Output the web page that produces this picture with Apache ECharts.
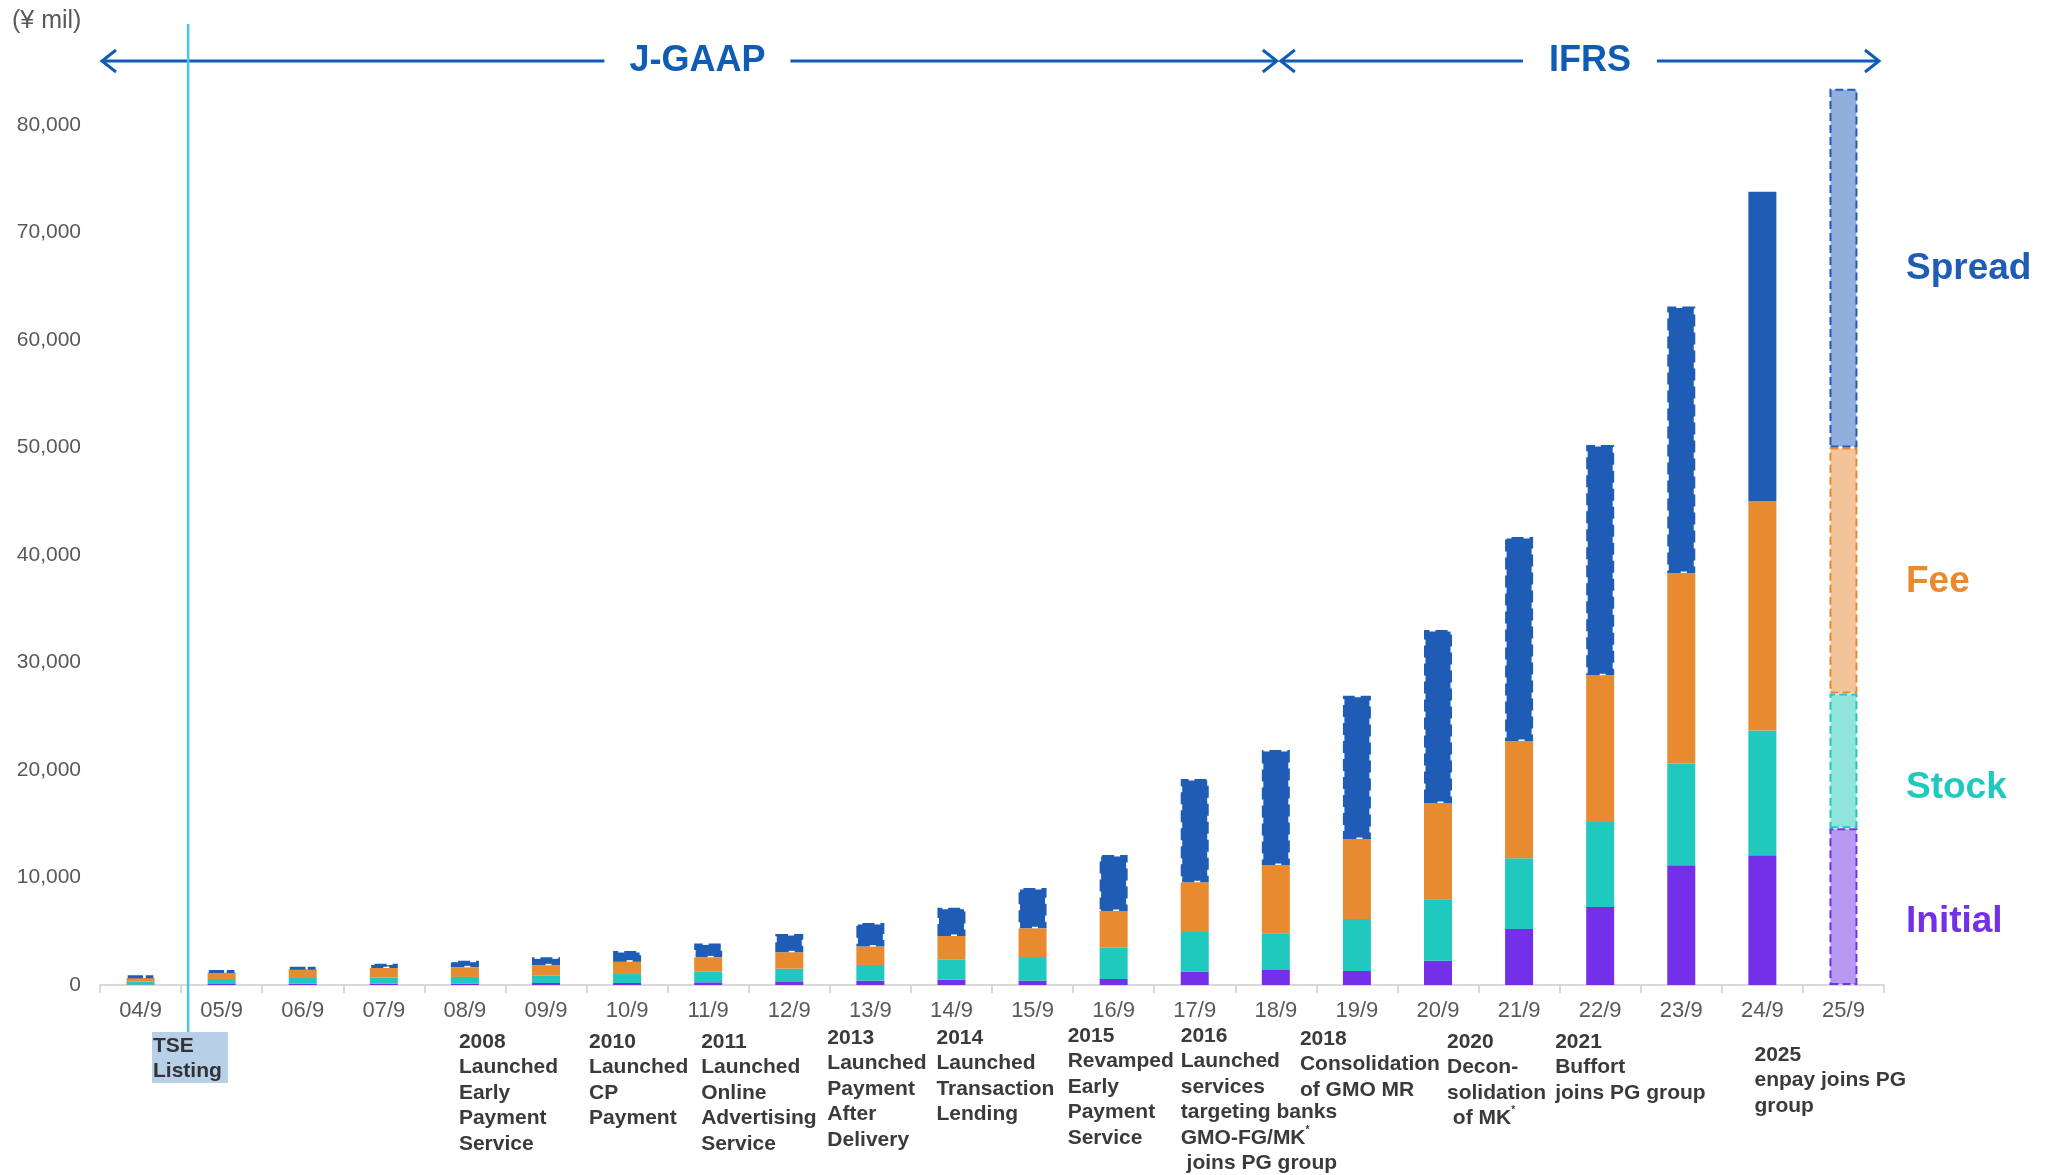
<!DOCTYPE html>
<html>
<head>
<meta charset="utf-8">
<script src="https://cdn.jsdelivr.net/npm/echarts@6/dist/echarts.min.js"></script>
<style>
  html, body { margin: 0; padding: 0; background: #fff; }
  #chart { width: 2058px; height: 1175px; }
</style>
</head>
<body>
<div id="chart"></div>
<script>
const categories = ['04/9', '05/9', '06/9', '07/9', '08/9', '09/9', '10/9', '11/9', '12/9', '13/9', '14/9',
  '15/9', '16/9', '17/9', '18/9', '19/9', '20/9', '21/9', '22/9', '23/9', '24/9', '25/9'];
const initial = [40, 150, 130, 120, 120, 190, 190, 250, 340, 400, 500, 400, 560, 1240, 1400, 1300, 2260, 5210, 7250, 11130, 12070, 14590];
const stock = [270, 410, 520, 590, 630, 710, 830, 990, 1180, 1460, 1890, 2200, 2910, 3690, 3410, 4840, 5710, 6570, 7910, 9470, 11600, 12530];
const fee = [340, 590, 810, 870, 890, 930, 1150, 1330, 1520, 1710, 2170, 2670, 3410, 4620, 6350, 7440, 8960, 10920, 13650, 17730, 21350, 22870];
const spread = [220, 220, 200, 400, 620, 740, 990, 1300, 1700, 2200, 2630, 3750, 5210, 9610, 10700, 13330, 16090, 18970, 21420, 24790, 28770, 33380];
const yMax = 90000;
const yStep = 10000;

const events = [
  { cat: '08/9', text: '2008\nLaunched\nEarly\nPayment\nService' },
  { cat: '10/9', text: '2010\nLaunched\nCP\nPayment' },
  { cat: '11/9', text: '2011\nLaunched\nOnline\nAdvertising\nService' },
  { cat: '13/9', text: '2013\nLaunched\nPayment\nAfter\nDelivery' },
  { cat: '14/9', text: '2014\nLaunched\nTransaction\nLending' },
  { cat: '16/9', text: '2015\nRevamped\nEarly\nPayment\nService' },
  { cat: '17/9', text: '2016\nLaunched\nservices\ntargeting banks\nGMO-FG/MK{s|*}\n joins PG group' },
  { cat: '19/9', text: '2018\nConsolidation\nof GMO MR' },
  { cat: '20/9', text: '2020\nDecon-\nsolidation\n of MK{s|*}' },
  { cat: '22/9', text: '2021\nBuffort\njoins PG group' },
  { cat: '25/9', text: '2025\nenpay joins PG\ngroup' }
];
// layout of the event notes: offset from the category centre, and top
const eventDx = [-6, -38, -7, -43, -15, -46, -14, -57, 9, -45, -89];
const eventTop = [1029, 1029, 1029, 1025, 1025, 1023, 1023, 1026, 1029, 1029, 1042];

const FONT = "'Liberation Sans', Arial, sans-serif";
const colors = { initial: '#7430E9', stock: '#1FC9BD', fee: '#E88A30', spread: '#1F5CB6' };
const light = { initial: '#B899F2', stock: '#8FE4DC', fee: '#F3C49A', spread: '#92AEDC' };
const last = categories.length - 1;

function makeData(values, key, dashedBefore) {
  return values.map((v, i) => {
    if (i === last) {
      return { value: v, itemStyle: { color: light[key], borderColor: colors[key], borderWidth: 2, borderType: 'dashed' } };
    }
    if (i < dashedBefore) {
      return { value: v, itemStyle: { borderColor: colors[key], borderWidth: 3, borderType: 'dashed' } };
    }
    return v;
  });
}

function barSeries(name, values, key, dashedBefore) {
  return {
    name: name,
    type: 'bar',
    stack: 'total',
    barWidth: 28,
    data: makeData(values, key, dashedBefore),
    itemStyle: { color: colors[key] },
    emphasis: { disabled: true }
  };
}

const chart = echarts.init(document.getElementById('chart'));
chart.setOption({
  backgroundColor: '#fff',
  animation: false,
  textStyle: { fontFamily: FONT },
  grid: { left: 100, right: 174, top: 985 - 9 * 107.5, bottom: 190, containLabel: false, outerBoundsMode: 'none' },
  xAxis: {
    type: 'category',
    data: categories,
    axisLine: { lineStyle: { color: '#D9D9D9', width: 2 } },
    axisTick: { show: true, length: 8, lineStyle: { color: '#D9D9D9', width: 2 } },
    axisLabel: { color: '#595959', fontSize: 22, margin: 15, fontFamily: FONT }
  },
  yAxis: {
    type: 'value',
    min: 0,
    max: yMax,
    interval: yStep,
    splitLine: { show: false },
    axisLine: { show: false },
    axisTick: { show: false },
    axisLabel: {
      color: '#595959', fontSize: 21, margin: 19, fontFamily: FONT,
      formatter: v => (v >= yMax ? '' : v.toLocaleString('en-US'))
    }
  },
  series: [
    barSeries('Initial', initial, 'initial', 0),
    barSeries('Stock', stock, 'stock', 0),
    barSeries('Fee', fee, 'fee', 0),
    barSeries('Spread', spread, 'spread', 20)
  ]
});

// annotations placed from the axis scale
const cx = cat => chart.convertToPixel({ xAxisIndex: 0 }, cat);
const band = cx(categories[1]) - cx(categories[0]);
const axStart = cx(categories[0]) - band / 2;
const axEnd = cx(categories[last]) + band / 2;
const split = cx('18/9') + 3;
const arrowL = axStart + 2;
const arrowR = axEnd - 5;
const arrowY = 61;
const arrowColor = '#0E5CB4';
const lineStyle = { stroke: arrowColor, lineWidth: 3, fill: null };

function chevron(tipX, dir) {
  return { type: 'polyline', shape: { points: [[tipX + dir * 14, arrowY - 11], [tipX, arrowY], [tipX + dir * 14, arrowY + 11]] }, style: lineStyle, z: 10 };
}

const graphics = [
  { type: 'line', shape: { x1: arrowL, y1: arrowY, x2: split - 2, y2: arrowY }, style: lineStyle },
  { type: 'line', shape: { x1: split + 2, y1: arrowY, x2: arrowR, y2: arrowY }, style: lineStyle },
  chevron(arrowL, 1), chevron(split - 2, -1), chevron(split + 2, 1), chevron(arrowR, -1),
  {
    type: 'text', x: (arrowL + split) / 2 + 7, y: arrowY, z: 11,
    style: { text: 'J-GAAP', fill: arrowColor, font: 'bold 36px ' + FONT, align: 'center', verticalAlign: 'middle', backgroundColor: '#fff', padding: [2, 25] }
  },
  {
    type: 'text', x: (split + arrowR) / 2 + 11, y: arrowY, z: 11,
    style: { text: 'IFRS', fill: arrowColor, font: 'bold 36px ' + FONT, align: 'center', verticalAlign: 'middle', backgroundColor: '#fff', padding: [2, 26] }
  },
  {
    type: 'text', x: 12, y: 21,
    style: { text: '(¥ mil)', fill: '#595959', font: '25px ' + FONT, verticalAlign: 'middle' }
  },
  {
    type: 'line', z: 5,
    shape: { x1: axStart + band + 7, y1: 24, x2: axStart + band + 7, y2: 1032 },
    style: { stroke: '#4EC1E8', lineWidth: 2.5 }
  },
  { type: 'rect', shape: { x: 152, y: 1032, width: 76, height: 51 }, style: { fill: '#B7CFE7' } },
  {
    type: 'text', x: 153, y: 1033, z: 6,
    style: { text: 'TSE\nListing', fill: '#333', font: 'bold 21px ' + FONT, lineHeight: 25.5 }
  }
];

const sideLabels = [
  { text: 'Spread', y: 269, color: colors.spread },
  { text: 'Fee', y: 582, color: colors.fee },
  { text: 'Stock', y: 788, color: colors.stock },
  { text: 'Initial', y: 922, color: colors.initial }
];
sideLabels.forEach(l => graphics.push({
  type: 'text', x: 1906, y: l.y,
  style: { text: l.text, fill: l.color, font: 'bold 37px ' + FONT, verticalAlign: 'middle' }
}));

events.forEach((e, i) => graphics.push({
  type: 'text', x: cx(e.cat) + eventDx[i], y: eventTop[i],
  style: {
    text: e.text, fill: '#3A3A3A', font: 'bold 21px ' + FONT, lineHeight: 25.5,
    rich: { s: { fontSize: 10, fontWeight: 'bold', verticalAlign: 'top', lineHeight: 25.5, fill: '#3A3A3A', padding: [0, 0, 8, 0] } }
  }
}));

chart.setOption({ graphic: graphics });
window.addEventListener('resize', () => chart.resize());
</script>
</body>
</html>
